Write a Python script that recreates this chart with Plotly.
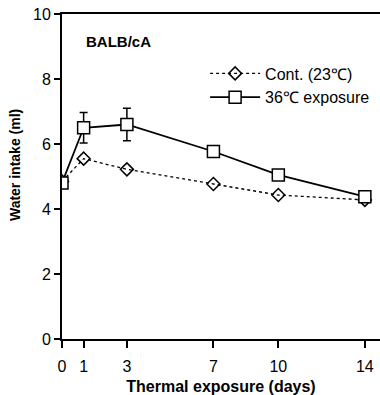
import plotly.graph_objects as go

days = [0, 1, 3, 7, 10, 14]
cont = [4.85, 5.55, 5.22, 4.77, 4.43, 4.28]
heat = [4.8, 6.5, 6.6, 5.77, 5.05, 4.38]
heat_err = [0.1, 0.47, 0.5, 0.12, 0.1, 0.1]
x_ticks = [0, 1, 3, 7, 10, 14]
y_ticks = [0, 2, 4, 6, 8, 10]

font = "Liberation Sans, Arial, sans-serif"

fig = go.Figure()
fig.add_trace(go.Scatter(
    x=days, y=cont, mode="lines+markers", name="Cont. (23\u2103)",
    line=dict(color="black", width=1.3, dash="3px,3px"),
    marker=dict(symbol="diamond-open", size=10, color="black", line=dict(width=1.5)),
))
fig.add_trace(go.Scatter(
    x=days, y=heat, mode="lines+markers", name="36\u2103 exposure",
    line=dict(color="black", width=1.8),
    marker=dict(symbol="square", size=12, color="white", line=dict(width=1.5, color="black")),
    error_y=dict(type="data", array=heat_err, color="black", thickness=1.5, width=4),
))

fig.add_annotation(x=0.07, y=0.915, xref="paper", yref="paper", text="<b>BALB/cA</b>",
                   showarrow=False, xanchor="left", yanchor="middle",
                   font=dict(family=font, size=15, color="black"))
fig.add_annotation(x=-0.148, y=0.535, xref="paper", yref="paper",
                   text="<b>Water intake (ml)</b>", textangle=-90, showarrow=False,
                   xanchor="center", yanchor="middle",
                   font=dict(family=font, size=14, color="black"))

fig.update_layout(
    width=380, height=395,
    margin=dict(l=62, r=0, t=14, b=56),
    paper_bgcolor="white", plot_bgcolor="white",
    font=dict(family=font, size=15, color="black"),
    showlegend=True,
    legend=dict(x=0.45, y=0.78, xanchor="left", yanchor="middle", bgcolor="rgba(0,0,0,0)",
                font=dict(family=font, size=16), itemwidth=50, tracegroupgap=8),
    xaxis=dict(range=[0, 14.7], tickvals=x_ticks, ticktext=[str(v) for v in x_ticks],
               showgrid=False, zeroline=False, showline=True, linecolor="black", linewidth=2,
               mirror=True, ticks="outside", ticklen=7, tickwidth=1.5, tickcolor="black",
               tickfont=dict(size=16), ticklabelstandoff=5,
               title=dict(text="<b>Thermal exposure (days)</b>", standoff=7,
                          font=dict(family=font, size=16))),
    yaxis=dict(range=[0, 10], tickvals=y_ticks, showgrid=False, zeroline=False,
               showline=True, linecolor="black", linewidth=2, ticks="outside", ticklen=6,
               tickwidth=1.5, tickcolor="black", tickfont=dict(size=16)),
)

fig.write_html("out.html")
